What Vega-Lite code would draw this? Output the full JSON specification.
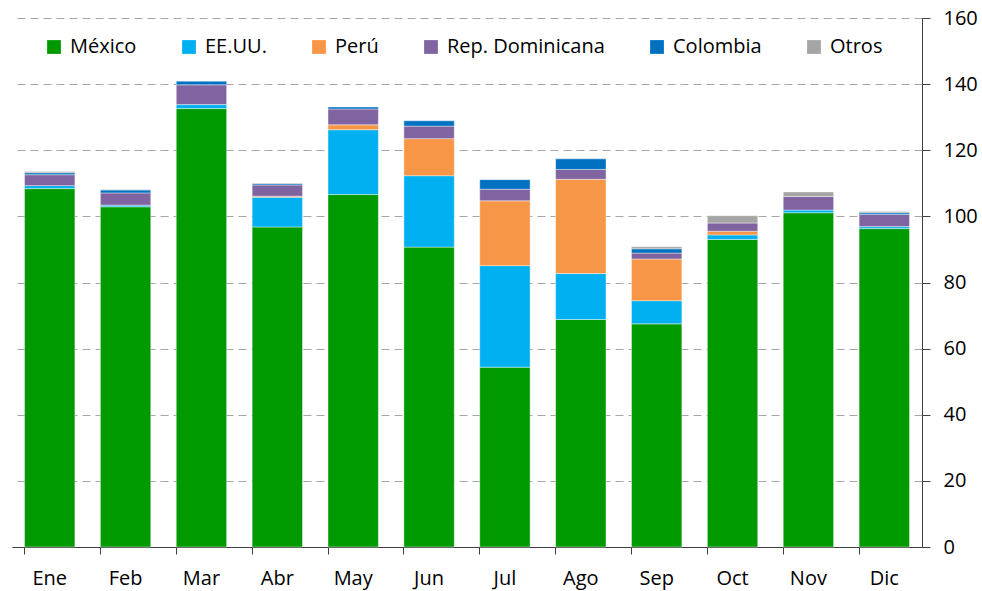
{
  "$schema": "https://vega.github.io/schema/vega-lite/v6.json",
  "width": 910,
  "height": 529,
  "autosize": "none",
  "padding": {"left": 12, "top": 18, "right": 60, "bottom": 44},
  "background": "white",
  "config": {
    "font": "Open Sans",
    "view": {"stroke": null}
  },
  "data": {
    "values": [
      {"mes": "Ene", "pais": "México", "valor": 108.4, "o": 1},
      {"mes": "Ene", "pais": "EE.UU.", "valor": 0.9, "o": 2},
      {"mes": "Ene", "pais": "Rep. Dominicana", "valor": 3.3, "o": 4},
      {"mes": "Ene", "pais": "Colombia", "valor": 0.6, "o": 5},
      {"mes": "Ene", "pais": "Otros", "valor": 0.4, "o": 6},
      {"mes": "Feb", "pais": "México", "valor": 102.9, "o": 1},
      {"mes": "Feb", "pais": "EE.UU.", "valor": 0.5, "o": 2},
      {"mes": "Feb", "pais": "Rep. Dominicana", "valor": 3.7, "o": 4},
      {"mes": "Feb", "pais": "Colombia", "valor": 0.9, "o": 5},
      {"mes": "Feb", "pais": "Otros", "valor": 0.1, "o": 6},
      {"mes": "Mar", "pais": "México", "valor": 132.6, "o": 1},
      {"mes": "Mar", "pais": "EE.UU.", "valor": 1.2, "o": 2},
      {"mes": "Mar", "pais": "Rep. Dominicana", "valor": 6.0, "o": 4},
      {"mes": "Mar", "pais": "Colombia", "valor": 1.1, "o": 5},
      {"mes": "Abr", "pais": "México", "valor": 96.8, "o": 1},
      {"mes": "Abr", "pais": "EE.UU.", "valor": 9.0, "o": 2},
      {"mes": "Abr", "pais": "Perú", "valor": 0.3, "o": 3},
      {"mes": "Abr", "pais": "Rep. Dominicana", "valor": 3.4, "o": 4},
      {"mes": "Abr", "pais": "Colombia", "valor": 0.4, "o": 5},
      {"mes": "Abr", "pais": "Otros", "valor": 0.2, "o": 6},
      {"mes": "May", "pais": "México", "valor": 106.6, "o": 1},
      {"mes": "May", "pais": "EE.UU.", "valor": 19.6, "o": 2},
      {"mes": "May", "pais": "Perú", "valor": 1.5, "o": 3},
      {"mes": "May", "pais": "Rep. Dominicana", "valor": 4.8, "o": 4},
      {"mes": "May", "pais": "Colombia", "valor": 0.6, "o": 5},
      {"mes": "Jun", "pais": "México", "valor": 90.7, "o": 1},
      {"mes": "Jun", "pais": "EE.UU.", "valor": 21.6, "o": 2},
      {"mes": "Jun", "pais": "Perú", "valor": 11.2, "o": 3},
      {"mes": "Jun", "pais": "Rep. Dominicana", "valor": 3.8, "o": 4},
      {"mes": "Jun", "pais": "Colombia", "valor": 1.6, "o": 5},
      {"mes": "Jul", "pais": "México", "valor": 54.4, "o": 1},
      {"mes": "Jul", "pais": "EE.UU.", "valor": 30.7, "o": 2},
      {"mes": "Jul", "pais": "Perú", "valor": 19.6, "o": 3},
      {"mes": "Jul", "pais": "Rep. Dominicana", "valor": 3.5, "o": 4},
      {"mes": "Jul", "pais": "Colombia", "valor": 2.9, "o": 5},
      {"mes": "Ago", "pais": "México", "valor": 68.8, "o": 1},
      {"mes": "Ago", "pais": "EE.UU.", "valor": 13.9, "o": 2},
      {"mes": "Ago", "pais": "Perú", "valor": 28.5, "o": 3},
      {"mes": "Ago", "pais": "Rep. Dominicana", "valor": 3.0, "o": 4},
      {"mes": "Ago", "pais": "Colombia", "valor": 3.2, "o": 5},
      {"mes": "Sep", "pais": "México", "valor": 67.5, "o": 1},
      {"mes": "Sep", "pais": "EE.UU.", "valor": 7.0, "o": 2},
      {"mes": "Sep", "pais": "Perú", "valor": 12.6, "o": 3},
      {"mes": "Sep", "pais": "Rep. Dominicana", "valor": 1.8, "o": 4},
      {"mes": "Sep", "pais": "Colombia", "valor": 1.3, "o": 5},
      {"mes": "Sep", "pais": "Otros", "valor": 0.6, "o": 6},
      {"mes": "Oct", "pais": "México", "valor": 93.0, "o": 1},
      {"mes": "Oct", "pais": "EE.UU.", "valor": 1.4, "o": 2},
      {"mes": "Oct", "pais": "Perú", "valor": 1.1, "o": 3},
      {"mes": "Oct", "pais": "Rep. Dominicana", "valor": 2.5, "o": 4},
      {"mes": "Oct", "pais": "Otros", "valor": 2.2, "o": 6},
      {"mes": "Nov", "pais": "México", "valor": 101.1, "o": 1},
      {"mes": "Nov", "pais": "EE.UU.", "valor": 0.8, "o": 2},
      {"mes": "Nov", "pais": "Rep. Dominicana", "valor": 4.1, "o": 4},
      {"mes": "Nov", "pais": "Otros", "valor": 1.4, "o": 6},
      {"mes": "Dic", "pais": "México", "valor": 96.3, "o": 1},
      {"mes": "Dic", "pais": "EE.UU.", "valor": 0.6, "o": 2},
      {"mes": "Dic", "pais": "Rep. Dominicana", "valor": 3.7, "o": 4},
      {"mes": "Dic", "pais": "Colombia", "valor": 0.5, "o": 5},
      {"mes": "Dic", "pais": "Otros", "valor": 0.4, "o": 6}
    ]
  },
  "mark": {"type": "bar", "stroke": "white", "strokeWidth": 0.6, "strokeOpacity": 0.7},
  "encoding": {
    "x": {
      "field": "mes",
      "type": "nominal",
      "sort": ["Ene", "Feb", "Mar", "Abr", "May", "Jun", "Jul", "Ago", "Sep", "Oct", "Nov", "Dic"],
      "scale": {"paddingInner": 0.336, "paddingOuter": 0.165},
      "axis": {
        "title": null,
        "labelAngle": 0,
        "labelFontSize": 20,
        "labelColor": "black",
        "labelPadding": 14,
        "bandPosition": 0,
        "tickSize": 7,
        "tickColor": "#404040",
        "domainColor": "#404040",
        "grid": false
      }
    },
    "y": {
      "field": "valor",
      "type": "quantitative",
      "stack": "zero",
      "scale": {"domain": [0, 160], "nice": false},
      "axis": {
        "orient": "right",
        "title": null,
        "values": [0, 20, 40, 60, 80, 100, 120, 140, 160],
        "labelFontSize": 20,
        "labelColor": "black",
        "labelPadding": 13,
        "tickSize": 8,
        "tickColor": "#404040",
        "domainColor": "#404040",
        "grid": true,
        "gridColor": "#A6A6A6",
        "gridDash": [8, 5],
        "gridWidth": 1.2
      }
    },
    "color": {
      "field": "pais",
      "type": "nominal",
      "scale": {
        "domain": ["México", "EE.UU.", "Perú", "Rep. Dominicana", "Colombia", "Otros"],
        "range": ["#009900", "#00B0F0", "#F79646", "#8064A2", "#0070C0", "#A5A5A5"]
      },
      "legend": {
        "title": null,
        "orient": "none",
        "legendX": 32,
        "legendY": 19,
        "direction": "horizontal",
        "symbolType": "square",
        "symbolSize": 190,
        "symbolStrokeWidth": 0,
        "labelFontSize": 20,
        "labelColor": "black",
        "labelOffset": 6,
        "labelLimit": 300,
        "columnPadding": 42
      }
    },
    "order": {"field": "o", "type": "quantitative"}
  }
}
